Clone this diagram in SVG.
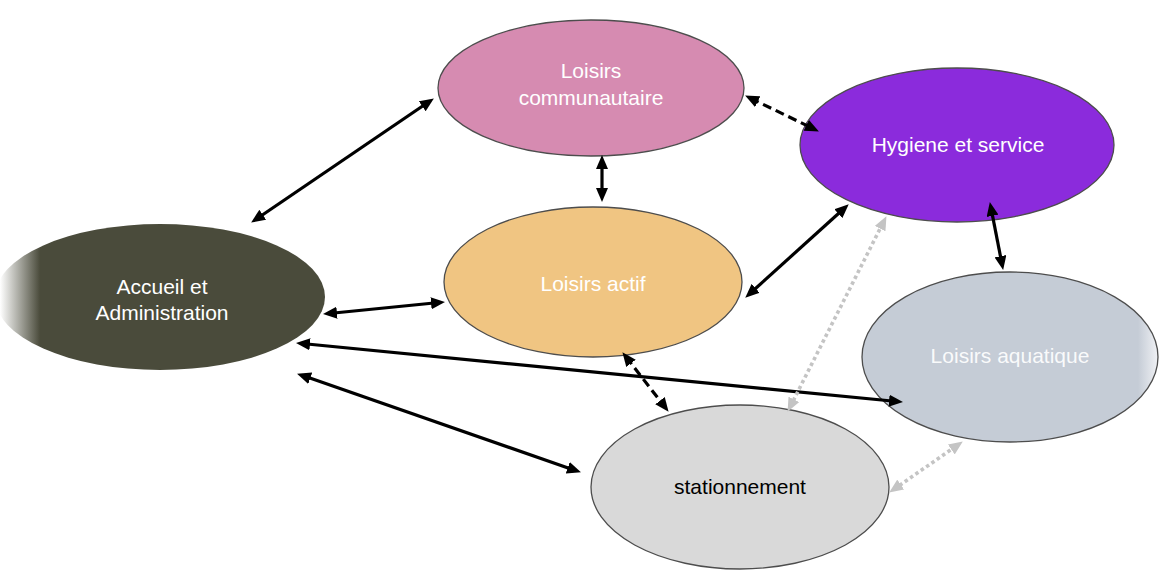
<svg xmlns="http://www.w3.org/2000/svg" width="1159" height="575" viewBox="0 0 1159 575">
  <defs>
    <style>
      .node { stroke: #4d4d4d; stroke-width: 1.3; }
      .lbl { font-family: "Liberation Sans", Arial, sans-serif; font-size: 21px; text-anchor: middle; fill: #ffffff; }
      .conn { fill: none; stroke: #000000; stroke-width: 3.2; marker-start: url(#ah); marker-end: url(#ah); }
      .dash { stroke-dasharray: 9 5; }
      .dot { stroke: #c4c4c4; stroke-width: 3.6; stroke-dasharray: 3.5 3; marker-start: url(#ahg); marker-end: url(#ahg); }
    </style>
    <marker id="ah" viewBox="0 0 14 12" refX="8" refY="6" markerWidth="14" markerHeight="12" markerUnits="userSpaceOnUse" orient="auto-start-reverse">
      <path d="M0,0 L14,6 L0,12 z" fill="#000000"/>
    </marker>
    <marker id="ahg" viewBox="0 0 14 12" refX="8" refY="6" markerWidth="14" markerHeight="12" markerUnits="userSpaceOnUse" orient="auto-start-reverse">
      <path d="M0,0 L14,6 L0,12 z" fill="#c4c4c4"/>
    </marker>
    <linearGradient id="fadeL" gradientUnits="userSpaceOnUse" x1="0" y1="0" x2="40" y2="0">
      <stop offset="0" stop-color="#ffffff"/>
      <stop offset="1" stop-color="#4a4b3b"/>
    </linearGradient>
    <linearGradient id="fadeR" gradientUnits="userSpaceOnUse" x1="1138" y1="0" x2="1159" y2="0">
      <stop offset="0" stop-color="#c5ccd6"/>
      <stop offset="1" stop-color="#f2f3f6"/>
    </linearGradient>
  </defs>

  <g id="accueil">
    <ellipse cx="160" cy="297" rx="165" ry="73" fill="url(#fadeL)" stroke="none"/>
    <text class="lbl" x="162" y="294">Accueil et</text>
    <text class="lbl" x="162" y="320">Administration</text>
  </g>
  <g id="loisirs-communautaire">
    <ellipse class="node" cx="591" cy="88" rx="153" ry="68" fill="#d68bb1"/>
    <text class="lbl" x="591" y="78">Loisirs</text>
    <text class="lbl" x="591" y="105">communautaire</text>
  </g>
  <g id="hygiene">
    <ellipse class="node" cx="957" cy="145" rx="157" ry="77" fill="#8b2bdc"/>
    <text class="lbl" x="958" y="152">Hygiene et service</text>
  </g>
  <g id="loisirs-actif">
    <ellipse class="node" cx="593" cy="282" rx="149" ry="75" fill="#f0c582"/>
    <text class="lbl" x="593" y="291">Loisirs actif</text>
  </g>
  <g id="loisirs-aquatique">
    <ellipse class="node" cx="1010" cy="357" rx="148" ry="85" fill="url(#fadeR)"/>
    <text class="lbl" x="1010" y="363" fill-opacity="0.92">Loisirs aquatique</text>
  </g>
  <g id="stationnement">
    <ellipse class="node" cx="740" cy="487" rx="149" ry="82" fill="#d9d9d9"/>
    <text class="lbl" x="740" y="494" style="fill:#000000">stationnement</text>
  </g>

  <g id="connectors">
    <line class="conn" x1="256.1" y1="219.2" x2="428.9" y2="101.8"/>
    <line class="conn" x1="602" y1="161" x2="602" y2="196"/>
    <line class="conn dash" x1="750.5" y1="98.2" x2="813.5" y2="128.8"/>
    <line class="conn" x1="329" y1="313.5" x2="439" y2="302.5"/>
    <line class="conn" x1="749.7" y1="293.7" x2="844.3" y2="208.3"/>
    <line class="conn" x1="991" y1="207.9" x2="1002" y2="264.1"/>
    <line class="conn" x1="302" y1="343.5" x2="897" y2="401.5"/>
    <line class="conn dash" x1="626.1" y1="357" x2="664.9" y2="407"/>
    <line class="conn" x1="302.7" y1="375.6" x2="575.3" y2="470.4"/>
    <line class="conn dot" x1="790.3" y1="406.5" x2="883.7" y2="221.5"/>
    <line class="conn dot" x1="894.1" y1="489.1" x2="957.9" y2="444.9"/>
  </g>
</svg>
